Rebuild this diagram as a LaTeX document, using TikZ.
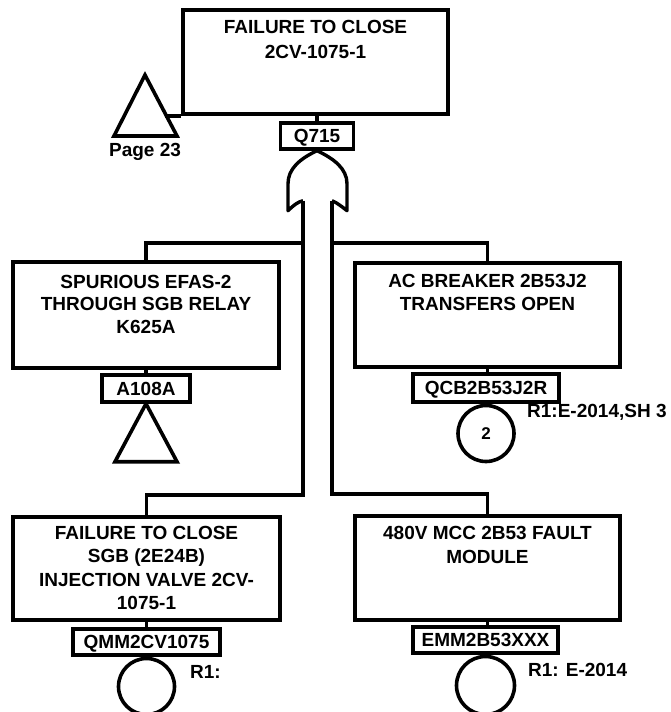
\documentclass[tikz,border=0pt]{standalone}
\usepackage{fontspec}
\setmainfont{Liberation Sans}
\usetikzlibrary{calc}
\newcommand{\evtext}[5]{\parbox[c][#2][t]{#1}{\centering\fontsize{19}{#4}\selectfont\vspace*{#3}#5\par}}
\tikzset{
  every node/.style={font=\fontsize{19}{23}\selectfont\bfseries},
  evbox/.style={draw, line width=4pt, inner sep=0pt},
  idbox/.style={draw, line width=3.4pt, inner sep=0pt, minimum height=#1, text height=13.6pt, text depth=0pt},
  wire/.style={line width=3.2pt},
  gateline/.style={line width=3.4pt, line join=round},
  tri/.style={line width=3.6pt, line join=miter},
  circ/.style={draw, circle, line width=3.6pt, inner sep=0pt, minimum size=#1},
  ref/.style={anchor=west, inner sep=0pt},
}
\begin{document}
\begin{tikzpicture}[x=1pt,y=-1pt]
\useasboundingbox (0,0) rectangle (671,712);

% top event
\node[evbox] (top) at (315.5,62) {\evtext{265pt}{104pt}{10.2pt}{25pt}{FAILURE TO CLOSE\\2CV-1075-1}};
\node[idbox=26pt, minimum width=73pt] (q715) at (317,136) {Q715};
\draw[wire] (q715.north) -- (q715.north |- top.south);

% transfer triangle Page 23
\coordinate (pA) at (145,75);
\coordinate (pR) at (177,136);
\coordinate (pL) at (114,136);
\draw[tri] (pA) -- (pR) -- (pL) -- cycle;
\coordinate (pJ) at ($(pA)!0.64!(pR)$);
\draw[line width=4pt] (top.south west) -- (top.south west -| pJ);
\node (pg) at (145,152) {Page 23};

% OR gate
\coordinate (gA) at (q715.south);
\begin{scope}[shift={(gA)}]
  \draw[gateline] (0,0) .. controls (-17,8) and (-29,18) .. (-29,33) -- (-29,60)
        .. controls (-24,55) and (-19,51) .. (-14,50);
  \draw[gateline] (15,50) .. controls (20,52) and (25,56) .. (30,60) -- (30,33)
        .. controls (30,18) and (17,8) .. (0,0);
  \coordinate (inL) at (-14,50);
  \coordinate (inR) at (15,50);
\end{scope}

% second level
\node[evbox] (sp) at (146,315) {\evtext{266pt}{106pt}{13.2pt}{22.5pt}{SPURIOUS EFAS-2\\THROUGH SGB RELAY\\K625A}};
\node[idbox=27pt, minimum width=88pt] (a108) at (146,388.5) {A108A};
\draw[wire] (sp.south) -- (a108.north);
\draw[tri] (a108.south) -- ++(31,58) -- ++(-62,0) -- cycle;

\node[evbox] (ac) at (487.5,315) {\evtext{265pt}{104pt}{11.2pt}{23.5pt}{AC BREAKER 2B53J2\\TRANSFERS OPEN}};
\node[idbox=28pt, minimum width=146pt] (qcb) at (486,388) {QCB2B53J2R};
\draw[wire] (ac.south) -- (ac.south |- qcb.north);
\node[circ=56pt, anchor=north, font=\fontsize{17}{20}\selectfont\bfseries] (c2) at (qcb.south) {2};
\node[ref] (r1a) at (527,412) {R1:E-2014,SH 3};

% third level
\node[evbox] (bl) at (146.5,568.5) {\evtext{267pt}{103pt}{9.2pt}{23.3pt}{FAILURE TO CLOSE\\SGB (2E24B)\\INJECTION VALVE 2CV-\\1075-1}};
\node[idbox=26pt, minimum width=147pt] (qmm) at (146.5,642) {QMM2CV1075};
\draw[wire] (bl.south) -- (bl.south |- qmm.north);
\node[circ=56pt, anchor=north] (c3) at (qmm.south) {};
\node[ref] (r1b) at (190,672) {R1:};

\node[evbox] (br) at (487.5,568) {\evtext{265pt}{104pt}{10.2pt}{24pt}{480V MCC 2B53 FAULT\\MODULE}};
\node[idbox=26pt, minimum width=145pt] (emm) at (485.5,640) {EMM2B53XXX};
\draw[wire] (br.south) -- (br.south |- emm.north);
\node[circ=58pt, anchor=north] (c4) at (emm.south) {};
\node[ref] (r1c) at (528,670) {R1: E-2014};

% gate inputs
\draw[wire] (inL) |- ($(bl.north)+(0,-20)$) -- (bl.north);
\draw[wire] (inR) |- ($(br.north)+(0,-20)$) -- (br.north);
\draw[wire] (sp.north) -- ++(0,-17) -| (inL);
\draw[wire] (ac.north) -- ++(0,-18) -| (inR);
\end{tikzpicture}
\end{document}
